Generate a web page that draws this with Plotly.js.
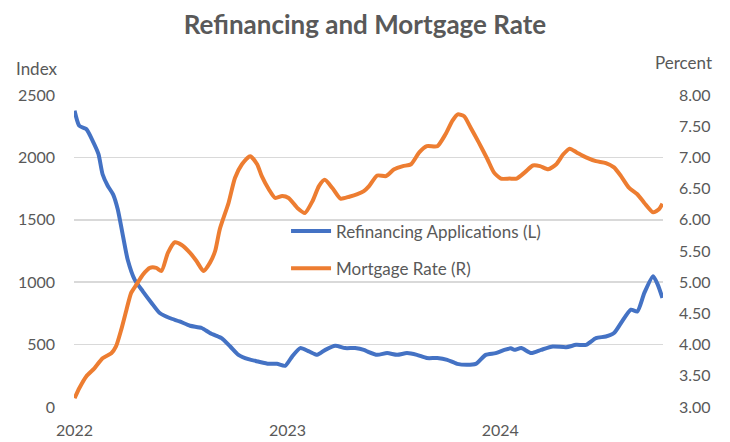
<!DOCTYPE html>
<html>
<head>
<meta charset="utf-8">
<script src="https://cdn.plot.ly/plotly-3.0.1.min.js"></script>
<style>html,body{margin:0;padding:0;background:#fff;}#chart{width:730px;height:442px;}</style>
</head>
<body>
<div id="chart"></div>
<script>
// Refinancing Applications index (left axis)
const refiDates = ['2022-01-01','2022-01-09','2022-01-21','2022-02-01','2022-02-11','2022-02-18','2022-02-27','2022-03-08','2022-03-16','2022-03-25','2022-04-02','2022-04-14','2022-04-28','2022-05-13','2022-05-27','2022-06-13','2022-06-30','2022-07-18','2022-08-07','2022-08-21','2022-09-04','2022-09-10','2022-09-25','2022-10-09','2022-10-26','2022-11-12','2022-11-30','2022-12-14','2022-12-28','2023-01-09','2023-01-23','2023-02-07','2023-02-21','2023-03-07','2023-03-24','2023-04-10','2023-04-27','2023-05-12','2023-05-18','2023-06-04','2023-06-21','2023-07-08','2023-07-25','2023-08-11','2023-08-28','2023-09-15','2023-10-02','2023-10-19','2023-11-05','2023-11-20','2023-12-07','2023-12-24','2024-01-08','2024-01-19','2024-01-25','2024-02-06','2024-02-23','2024-03-11','2024-03-31','2024-04-23','2024-05-10','2024-05-27','2024-06-13','2024-06-30','2024-07-14','2024-07-26','2024-08-12','2024-08-23','2024-09-04','2024-09-19','2024-09-27','2024-10-05'];
const refiValues = [2374,2254,2227,2133,2026,1865,1771,1704,1584,1369,1182,1021,927,834,753,713,686,651,633,593,565,552,485,418,383,364,346,346,330,404,472,445,418,458,490,472,472,458,445,418,432,418,432,418,392,392,378,346,338,346,418,432,458,470,458,472,432,458,485,479,498,498,552,565,593,673,780,766,914,1048,981,874];

// 30-year mortgage rate, percent (right axis)
const rateDates = ['2022-01-01','2022-01-09','2022-01-21','2022-02-04','2022-02-18','2022-03-05','2022-03-13','2022-03-22','2022-03-31','2022-04-08','2022-04-17','2022-04-28','2022-05-10','2022-05-21','2022-05-30','2022-06-10','2022-06-22','2022-07-03','2022-07-18','2022-07-29','2022-08-10','2022-08-21','2022-08-30','2022-09-07','2022-09-22','2022-10-03','2022-10-15','2022-10-29','2022-11-10','2022-11-18','2022-11-30','2022-12-11','2022-12-23','2023-01-03','2023-01-18','2023-01-31','2023-02-13','2023-02-24','2023-03-06','2023-03-19','2023-04-02','2023-04-17','2023-05-01','2023-05-12','2023-05-21','2023-06-04','2023-06-19','2023-07-03','2023-07-18','2023-08-01','2023-08-15','2023-08-28','2023-09-15','2023-09-29','2023-10-11','2023-10-20','2023-10-31','2023-11-11','2023-11-25','2023-12-10','2023-12-21','2024-01-02','2024-01-17','2024-01-29','2024-02-12','2024-02-26','2024-03-09','2024-03-23','2024-04-06','2024-04-18','2024-04-29','2024-05-11','2024-05-27','2024-06-13','2024-06-30','2024-07-14','2024-07-26','2024-08-09','2024-08-23','2024-09-04','2024-09-19','2024-09-29','2024-10-05'];
const rateValues = [3.14,3.30,3.49,3.62,3.78,3.86,3.97,4.24,4.56,4.83,4.96,5.12,5.23,5.23,5.18,5.47,5.64,5.60,5.47,5.34,5.18,5.31,5.50,5.85,6.27,6.67,6.89,7.02,6.89,6.70,6.49,6.35,6.38,6.35,6.19,6.11,6.30,6.54,6.64,6.51,6.34,6.37,6.41,6.46,6.54,6.71,6.70,6.81,6.86,6.89,7.08,7.18,7.18,7.37,7.59,7.69,7.66,7.48,7.24,6.97,6.76,6.66,6.66,6.66,6.76,6.87,6.86,6.81,6.89,7.05,7.14,7.08,7.00,6.94,6.91,6.84,6.70,6.51,6.41,6.27,6.12,6.17,6.26];

const yearTicks = ['2022-01-01','2023-01-01','2024-01-01'];
const leftTicks = [0,500,1000,1500,2000,2500];
const rightTicks = [3,3.5,4,4.5,5,5.5,6,6.5,7,7.5,8];

const textColor = '#595959';
const font = 'Lato, "Open Sans", sans-serif';

const traces = [
  {x: refiDates, y: refiValues, name: 'Refinancing Applications (L)', type: 'scatter', mode: 'lines',
   line: {color: '#4472C4', width: 4, shape: 'spline', smoothing: 0.6}, yaxis: 'y', legendgroup: 'a'},
  {x: rateDates, y: rateValues, name: 'Mortgage Rate (R)', type: 'scatter', mode: 'lines',
   line: {color: '#ED7D31', width: 4, shape: 'spline', smoothing: 0.6}, yaxis: 'y2', legendgroup: 'b'}
];

const layout = {
  width: 730, height: 442,
  margin: {l: 74, r: 67, t: 95, b: 35},
  paper_bgcolor: '#ffffff', plot_bgcolor: '#ffffff',
  font: {family: font, color: textColor, size: 16},
  title: {text: '<b>Refinancing and Mortgage Rate</b>', x: 0.5, xanchor: 'center', y: 0.943, yanchor: 'middle',
          font: {family: font, size: 26, color: textColor}},
  xaxis: {type: 'date', range: ['2021-12-31', '2024-10-06'], tickvals: yearTicks, tickformat: '%Y',
          showgrid: false, zeroline: false, showline: false, ticks: '', ticklabelstandoff: 12,
          tickfont: {size: 16, color: textColor}},
  yaxis: {range: [0, 2500], tickvals: leftTicks, showgrid: true, gridcolor: '#d9d9d9', gridwidth: 1.5,
          zeroline: false, showline: false, ticks: '', ticklabelstandoff: 18, tickfont: {size: 16, color: textColor}},
  yaxis2: {range: [3, 8], tickvals: rightTicks, tickformat: '.2f', overlaying: 'y', side: 'right',
           showgrid: false, zeroline: false, showline: false, ticks: '', ticklabelstandoff: 15,
           tickfont: {size: 16, color: textColor}},
  showlegend: true,
  legend: {x: 0.36, y: 0.62, xanchor: 'left', yanchor: 'top', bgcolor: 'rgba(0,0,0,0)',
           font: {size: 17, color: textColor, family: font}, traceorder: 'grouped', tracegroupgap: 12,
           itemwidth: 40},
  annotations: [
    {text: 'Index', xref: 'paper', yref: 'paper', x: 0, y: 1, xshift: -37, yshift: 27, showarrow: false,
     xanchor: 'center', yanchor: 'middle', font: {size: 17, color: textColor, family: font}},
    {text: 'Percent', xref: 'paper', yref: 'paper', x: 1, y: 1, xshift: 20, yshift: 33, showarrow: false,
     xanchor: 'center', yanchor: 'middle', font: {size: 17, color: textColor, family: font}}
  ]
};

Plotly.newPlot('chart', traces, layout, {displayModeBar: false, staticPlot: true});
</script>
</body>
</html>
